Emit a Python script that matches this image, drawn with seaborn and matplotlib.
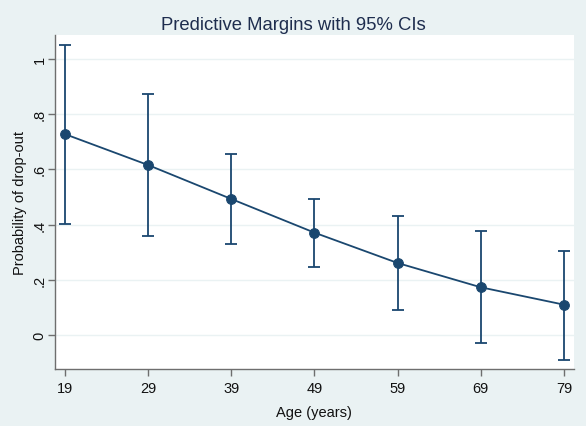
import matplotlib
matplotlib.use("Agg")
import matplotlib.pyplot as plt
import seaborn as sns
import pandas as pd

ages = [19, 29, 39, 49, 59, 69, 79]
margins = [0.728, 0.616, 0.493, 0.371, 0.261, 0.173, 0.110]
ci_low = [0.402, 0.358, 0.330, 0.245, 0.092, -0.030, -0.089]
ci_high = [1.051, 0.874, 0.655, 0.492, 0.430, 0.376, 0.305]
yticks = [0, 0.2, 0.4, 0.6, 0.8, 1.0]
ytick_labels = ["0", ".2", ".4", ".6", ".8", "1"]

sns.set_style("white")
plt.rcParams["font.family"] = ["Liberation Sans", "DejaVu Sans"]

bg = "#eaf2f3"
navy = "#1a476f"
axc = "#6e6e6e"

fig = plt.figure(figsize=(5.86, 4.27), dpi=100, facecolor=bg)
left, right, top, bottom = 54.5 / 586, 574 / 586, 1 - 36 / 427, 1 - 370 / 427
ax = fig.add_axes([left, bottom, right - left, top - bottom])
ax.set_facecolor("white")

df = pd.DataFrame({"age": ages, "margin": margins, "lo": ci_low, "hi": ci_high})

yerr = [[m - l for m, l in zip(margins, ci_low)], [h - m for m, h in zip(margins, ci_high)]]
ax.errorbar(df["age"], df["margin"], yerr=yerr, fmt="none", ecolor=navy,
            elinewidth=1.3, capsize=4, capthick=1.3, zorder=2)
sns.lineplot(data=df, x="age", y="margin", ax=ax, color=navy, linewidth=1.3,
             marker="o", markersize=7, markeredgecolor=navy, zorder=3)

ax.set_xlim(17.75, 80.2)
ax.set_ylim(-0.123, 1.087)
ax.set_xticks(ages)
ax.set_xticklabels([str(a) for a in ages], fontsize=10.5, color="#111111")
ax.set_yticks(yticks)
ax.set_yticklabels(ytick_labels, fontsize=10.5, rotation=90, va="center", color="#111111")
ax.grid(axis="y", color="#eaf2f3", linewidth=1.0)
ax.set_axisbelow(True)

for s in ["top", "right"]:
    ax.spines[s].set_visible(False)
for s in ["left", "bottom"]:
    ax.spines[s].set_color(axc)
    ax.spines[s].set_linewidth(1.0)
ax.tick_params(axis="both", direction="out", length=5, width=1.0, color=axc,
               bottom=True, left=True)
ax.tick_params(axis="y", pad=0.5)
ax.tick_params(axis="x", pad=4)

ax.set_xlabel("Age (years)", fontsize=10.5, color="#111111", labelpad=7)
ax.set_ylabel("Probability of drop-out", fontsize=10.5, color="#111111", labelpad=4)
fig.text(0.5, 1 - 30.5 / 427, "Predictive Margins with 95% CIs", ha="center", va="baseline",
         fontsize=13.3, color="#1e2d4e")

fig.savefig("out.png", dpi=100, facecolor=bg)
